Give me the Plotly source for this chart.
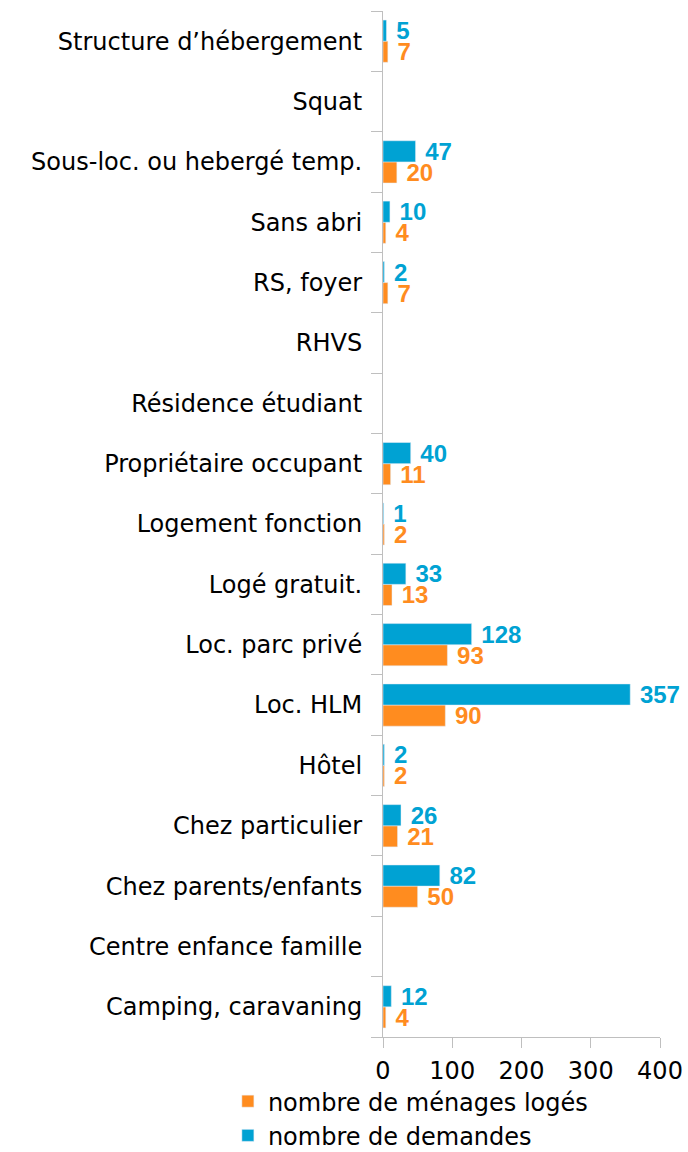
import plotly.graph_objects as go

categories = [
    "Camping, caravaning",
    "Centre enfance famille",
    "Chez parents/enfants",
    "Chez particulier",
    "Hôtel",
    "Loc. HLM",
    "Loc. parc privé",
    "Logé gratuit.",
    "Logement fonction",
    "Propriétaire occupant",
    "Résidence étudiant",
    "RHVS",
    "RS, foyer",
    "Sans abri",
    "Sous-loc. ou hebergé temp.",
    "Squat",
    "Structure d’hébergement",
]
menages_loges = [4, None, 50, 21, 2, 90, 93, 13, 2, 11, None, None, 7, 4, 20, None, 7]
demandes = [12, None, 82, 26, 2, 357, 128, 33, 1, 40, None, None, 2, 10, 47, None, 5]

ORANGE = "#FF8C1F"
BLUE = "#00A2D3"
LABEL_FONT = "DejaVu Sans"
FS = 24

def labels(vals):
    return ["" if v is None else " " + str(v) for v in vals]

fig = go.Figure()
fig.add_trace(go.Bar(
    y=categories, x=menages_loges, orientation="h", name="nombre de ménages logés",
    marker_color=ORANGE, text=labels(menages_loges), textposition="outside",
    textfont=dict(family="Liberation Sans", size=24, color=ORANGE, weight="bold"),
    cliponaxis=False, constraintext="none",
))
fig.add_trace(go.Bar(
    y=categories, x=demandes, orientation="h", name="nombre de demandes",
    marker_color=BLUE, text=labels(demandes), textposition="outside",
    textfont=dict(family="Liberation Sans", size=24, color=BLUE, weight="bold"),
    cliponaxis=False, constraintext="none",
))

fig.update_layout(
    width=688, height=1152,
    paper_bgcolor="white", plot_bgcolor="white",
    barmode="group", bargap=0.3, bargroupgap=0,
    margin=dict(l=383, r=28, t=11, b=115, autoexpand=False),
    font=dict(family=LABEL_FONT, size=FS, color="#000000"),
    showlegend=True,
    legend=dict(orientation="v", x=-0.56, xanchor="left", y=-0.041, yanchor="top",
                font=dict(family=LABEL_FONT, size=FS, color="#000000"),
                tracegroupgap=0, itemwidth=30),
    xaxis=dict(range=[0, 400], tickvals=[0, 100, 200, 300, 400],
               showgrid=False, zeroline=False, showline=True, linecolor="#BFBFBF",
               linewidth=1, ticks="outside", ticklen=10, tickcolor="#BFBFBF",
               ticklabelstandoff=2,
               tickfont=dict(family=LABEL_FONT, size=FS, color="#000000")),
    yaxis=dict(categoryorder="array", categoryarray=categories,
               showgrid=False, zeroline=False, showline=True, linecolor="#BFBFBF",
               linewidth=1, ticks="outside", tickson="boundaries", ticklen=11,
               tickcolor="#BFBFBF", ticklabelstandoff=15,
               tickfont=dict(family=LABEL_FONT, size=FS, color="#000000")),
)

fig.write_html(
    "out.html",
    config={"displayModeBar": False},
    post_script="document.body.style.margin='0';document.body.style.overflow='hidden';",
)
